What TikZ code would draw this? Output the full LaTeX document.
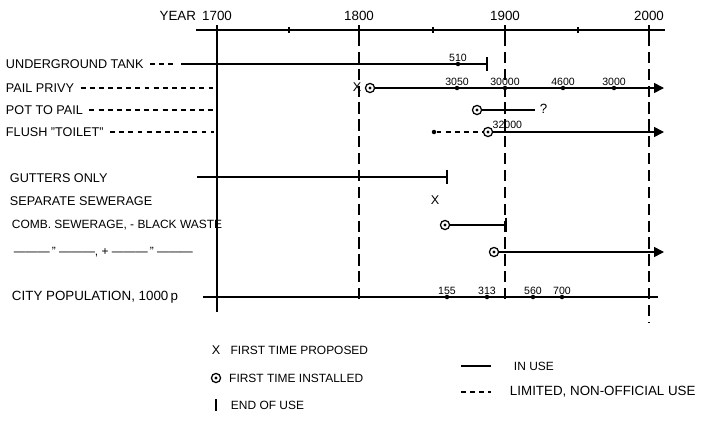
\documentclass[tikz,border=0pt]{standalone}
\usepackage{fontspec}
\setmainfont{Liberation Sans}
\usetikzlibrary{arrows.meta,positioning}

\tikzset{
    lbl/.style={anchor=west,inner sep=0.5pt,font=\fontsize{8.5}{10}\selectfont},
    yr/.style={inner sep=0.5pt,font=\fontsize{9.5}{10}\selectfont},
    num/.style={above=1.5pt,inner sep=0.3pt,font=\fontsize{7.5}{8}\selectfont},
    inuse/.style={line width=1.1pt},
    limited/.style={line width=0.9pt,dash pattern=on 3.5pt off 3pt},
    yrline/.style={line width=0.8pt,dash pattern=on 8pt off 4pt},
    centredot/.style={circle,fill=black,inner sep=0pt,minimum size=2.2pt},
    installed/.style={circle,draw,line width=0.9pt,inner sep=0pt,minimum size=6.5pt,fill=white,
        append after command={node[centredot] at (\tikzlastnode.center) {}}},
    dot/.style={circle,fill,inner sep=0pt,minimum size=3.2pt},
    proposed/.style={inner sep=0.5pt,font=\fontsize{9}{10}\selectfont},
    ahead/.style={-{Triangle[length=7pt,width=7pt]}},
}

\begin{document}
\begin{tikzpicture}[x=0.025cm,y=-0.025cm]
    \useasboundingbox (0,0) rectangle (707,421);

    % time axis
    \draw[inuse] (196,30) -- (665,30);
    \node[yr, anchor=east] (year) at (197,16) {YEAR};
    \foreach \y/\x in {1700/217,1800/359,1900/505,2000/649} {
        \node[yr] (y\y) at (\x,16) {\y};
        \draw[line width=0.9pt] (\x,25) -- (\x,35);
    }
    \foreach \x in {289,433,578} {
        \draw[line width=0.9pt] (\x,27) -- (\x,33);
    }
    \draw[line width=0.9pt] (217,35) -- (217,312);
    \foreach \x/\yb in {359/300,505/300,649/322} {
        \draw[yrline] (\x,35) -- (\x,\yb);
    }

    % underground tank
    \node[lbl, font=\fontsize{9}{10}\selectfont] (tank) at (5,64) {UNDERGROUND TANK};
    \coordinate (tankd) at (174,64);
    \coordinate (tanka) at (181,64);
    \coordinate (tankb) at (487,64);
    \draw[limited] (tank.east) ++(4pt,0) -- (tankd);
    \draw[inuse] (tanka) -- (tankb);
    \draw[inuse] (tankb) ++(0,-7) -- ++(0,14);
    \node[dot] (t510) at (458,64) {};
    \node[num] at (t510) {510};

    % pail privy
    \node[lbl, font=\fontsize{9}{10}\selectfont] (pail) at (5,88) {PAIL PRIVY};
    \coordinate (paild) at (214,88);
    \draw[limited] (pail.east) ++(4pt,0) -- (paild);
    \node[proposed] (pailx) at (357,87) {X};
    \node[installed] (paili) at (370,88) {};
    \coordinate (paile) at (664,88);
    \draw[inuse,ahead] (paili) -- (paile);
    \foreach \x/\v in {457/3050,505/30000,563/4600,614/3000} {
        \node[dot] (p\v) at (\x,88) {};
        \node[num] at (p\v) {\v};
    }

    % pot to pail
    \node[lbl, font=\fontsize{9}{10}\selectfont] (pot) at (5,110) {POT TO PAIL};
    \coordinate (potd) at (214,110);
    \draw[limited] (pot.east) ++(4pt,0) -- (potd);
    \node[installed] (poti) at (477,110) {};
    \coordinate (pote) at (535,110);
    \draw[inuse] (poti) -- (pote);
    \node[yr, anchor=west] (potq) at (539,109) {?};

    % flush toilet
    \node[lbl, font=\fontsize{9}{10}\selectfont] (flush) at (5,132) {FLUSH "TOILET"};
    \coordinate (flushd) at (214,132);
    \draw[limited] (flush.east) ++(4pt,0) -- (flushd);
    \node[dot] (flusha) at (434,132) {};
    \node[installed] (flushi) at (488,132) {};
    \coordinate (flushe) at (664,132);
    \draw[limited] (flusha) -- (flushi);
    \draw[inuse,ahead] (flushi) -- (flushe);
    \node[num, anchor=south west] at (492,131) {32000};

    % gutters only
    \node[lbl, font=\fontsize{9}{10}\selectfont] (gut) at (9,178) {GUTTERS ONLY};
    \coordinate (guta) at (197,177);
    \coordinate (gutb) at (447,177);
    \draw[inuse] (guta) -- (gutb);
    \draw[inuse] (gutb) ++(0,-7) -- ++(0,14);

    % separate sewerage
    \node[lbl, font=\fontsize{9}{10}\selectfont] (sep) at (9,201) {SEPARATE SEWERAGE};
    \node[proposed] (sepx) at (435,200) {X};

    % combined sewerage
    \node[lbl] (comb) at (11,225) {COMB. SEWERAGE, - BLACK WASTE};
    \node[installed] (combi) at (445,225) {};
    \coordinate (combe) at (506,225);
    \draw[inuse] (combi) -- (combe);
    \draw[inuse] (combe) ++(0,-7) -- ++(0,14);

    \node[lbl] (combp) at (13,252) {———\," ———, + ———\," ———};
    \node[installed] (combpi) at (494,252) {};
    \coordinate (combpe) at (664,252);
    \draw[inuse,ahead] (combpi) -- (combpe);

    % city population
    \node[lbl, font=\fontsize{9.5}{10}\selectfont] (pop) at (11,297) {CITY POPULATION, 1000\,p};
    \coordinate (popa) at (203,297);
    \coordinate (popb) at (658,297);
    \draw[inuse] (popa) -- (popb);
    \foreach \x/\v in {447/155,487/313,533/560,562/700} {
        \node[dot] (c\v) at (\x,297) {};
        \node[num] at (c\v) {\v};
    }

    % legend
    \node[proposed] (legx) at (216,350) {X};
    \node[lbl, right=6pt of legx] (legxt) {FIRST TIME PROPOSED};
    \node[installed] (legi) at (216,378) {};
    \node[lbl, right=5pt of legi] (legit) {FIRST TIME INSTALLED};
    \coordinate (lege) at (216,405);
    \draw[line width=0.9pt] (lege) ++(0,-6) -- ++(0,12);
    \node[lbl] (leget) at (230,405) {END OF USE};

    \coordinate (legua) at (461,366);
    \coordinate (legub) at (491,366);
    \draw[inuse] (legua) -- (legub);
    \node[lbl] (leguse) at (513,366) {IN USE};
    \coordinate (legla) at (461,392);
    \coordinate (leglb) at (491,392);
    \draw[limited] (legla) -- (leglb);
    \node[lbl, font=\fontsize{9.5}{10}\selectfont] (leglim) at (509,392) {LIMITED, NON-OFFICIAL USE};
\end{tikzpicture}
\end{document}
